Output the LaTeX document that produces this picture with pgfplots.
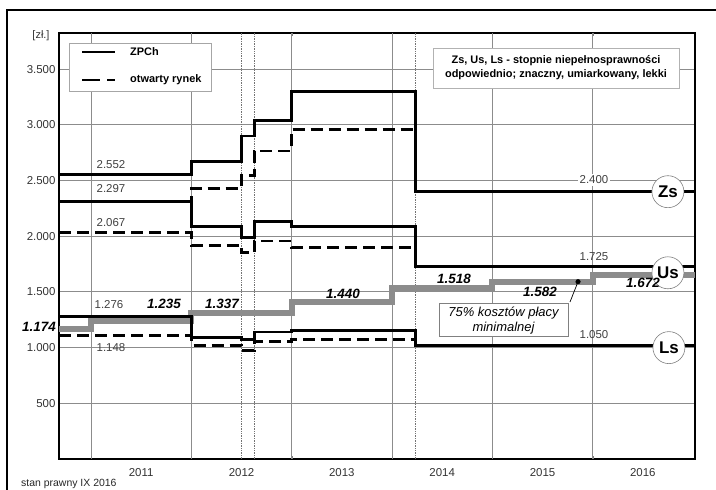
\documentclass[border=0pt]{standalone}
\usepackage{pgfplots}
\pgfplotsset{compat=1.18}
\usepackage{fontspec}
\setmainfont{Liberation Sans}
\newcommand\fs[1]{\fontsize{#1}{#1}\selectfont}
\begin{document}
\begin{tikzpicture}[x=1bp,y=1bp]
\begin{axis}[
  at={(59bp,31bp)}, anchor=south west,
  scale only axis, width=636bp, height=426bp,
  xmin=2010.181, xmax=2016.52, ymin=0, ymax=3825,
  axis line style={line width=1.8bp},
  ytick={500,1000,1500,2000,2500,3000,3500},
  yticklabel style={/pgf/number format/1000 sep={.}, font=\fs{11.5}, text=black!80},
  /pgf/number format/assume math mode=true,
  xtick={2011,2012,2013,2014,2015,2016},
  xticklabels={2011,2012,2013,2014,2015,2016},
  xticklabel style={font=\fs{11.5}, text=black!80, yshift=-6bp},
  major tick length=0pt,
  ymajorgrids,
  extra x ticks={2010.5,2011.5,2012.5,2013.5,2014.5,2015.5},
  extra x tick labels={},
  extra x tick style={grid=major, major tick length=3bp, tick style={black!50}},
  major grid style={black!45, line width=0.9bp},
  clip=false,
]
\draw[densely dotted, black!55, line width=0.7bp] (axis cs:2012,0) -- (axis cs:2012,3825);
\draw[densely dotted, black!55, line width=0.7bp] (axis cs:2012.125,0) -- (axis cs:2012.125,3825);
\draw[densely dotted, black!55, line width=0.7bp] (axis cs:2013.73,0) -- (axis cs:2013.73,3825);
% 75% minimal wage
\addplot[const plot, draw=black!45, line width=5.8bp] coordinates {(2010.181,1168) (2010.5,1242) (2011.5,1312) (2012.5,1408) (2013.5,1532) (2014.5,1592) (2015.5,1655) (2016.52,1655)};
% Zs
\addplot[const plot, black, line width=2.9bp] coordinates {(2010.181,2552) (2011.5,2670) (2012,2900) (2012.125,3037) (2012.5,3297) (2013.73,2400) (2016.52,2400)};
\addplot[const plot, black, line width=2.9bp, dash pattern=on 12bp off 6bp] coordinates {(2010.181,2310) (2011.5,2430) (2012,2543) (2012.125,2765) (2012.5,2960) (2013.73,2400) (2016.52,2400)};
% Us
\addplot[const plot, black, line width=2.9bp] coordinates {(2010.181,2310) (2011.5,2090) (2012,1985) (2012.125,2130) (2012.5,2085) (2013.73,1730) (2016.52,1730)};
\addplot[const plot, black, line width=2.9bp, dash pattern=on 12bp off 6bp] coordinates {(2010.181,2030) (2011.5,1920) (2012,1852) (2012.125,1957) (2012.5,1900) (2013.73,1730) (2016.52,1730)};
% Ls
\addplot[const plot, black, line width=2.9bp] coordinates {(2010.181,1276) (2011.5,1092) (2012,1075) (2012.125,1140) (2012.5,1155) (2013.73,1015) (2016.52,1015)};
\addplot[const plot, black, line width=2.9bp, dash pattern=on 12bp off 6bp] coordinates {(2010.181,1107) (2011.5,1023) (2012,975) (2012.125,1058) (2012.5,1076) (2013.73,1015) (2016.52,1015)};
% pointer dot
\addplot[only marks, mark=*, mark size=2.3bp, black] coordinates {(2015.354,1592)};
\coordinate (dot) at (axis cs:2015.354,1592);
\node[circle, draw=black!50, fill=white, line width=0.6bp, minimum size=32bp, inner sep=0pt, font=\fs{17}\bfseries] at (axis cs:2016.25,2400) {Zs};
\node[circle, draw=black!50, fill=white, line width=0.6bp, minimum size=32bp, inner sep=0pt, font=\fs{17}\bfseries] at (axis cs:2016.25,1672) {Us};
\node[circle, draw=black!50, fill=white, line width=0.6bp, minimum size=32bp, inner sep=0pt, font=\fs{17}\bfseries] at (axis cs:2016.26,1000) {Ls};
\end{axis}
% outer frame
\draw[line width=1.6bp] (7,-20) -- (7,480) -- (740,480);
% unit
\node[font=\fs{11}, text=black!80] at (41,454) {[zł.]};
% small labels
\begin{scope}[every node/.style={font=\fs{11.5}, text=black!75, inner sep=1bp}]
\node at (111,325) {2.552};
\node at (111,301) {2.297};
\node at (111,267) {2.067};
\node at (109,185) {1.276};
\node at (111,142) {1.148};
\node[fill=white, inner sep=2bp] at (594,310) {2.400};
\node at (594,233) {1.725};
\node at (594,155) {1.050};
\end{scope}
\begin{scope}[every node/.style={font=\fs{13.5}\bfseries\itshape, inner sep=0pt}]
\node at (39,163) {1.174};
\node at (164,186) {1.235};
\node at (222,186) {1.337};
\node at (343,196) {1.440};
\node at (454,211) {1.518};
\node at (540,198) {1.582};
\node at (643,207) {1.672};
\end{scope}
% legend
\draw[draw=black!35, fill=white, line width=0.6bp] (69,447) rectangle (211,399);
\draw[line width=2.9bp] (82,438) -- (115,438);
\draw[line width=2.9bp, dash pattern=on 18bp off 7bp] (82,410) -- (115,410);
\node[anchor=west, font=\fs{11}\bfseries, inner sep=0pt] at (130,438) {ZPCh};
\node[anchor=west, font=\fs{11}\bfseries, inner sep=0pt] at (130,410) {otwarty rynek};
% info box
\draw[draw=black!30, fill=white, line width=0.6bp] (433,442) rectangle (679,402);
\node[font=\fs{11}\bfseries, inner sep=0pt] at (556,429) {Zs, Us, Ls - stopnie niepełnosprawności};
\node[font=\fs{11}\bfseries, inner sep=0pt] at (556,415) {odpowiednio; znaczny, umiarkowany, lekki};
% 75% box
\draw[line width=0.7bp] (dot) -- (570,188);
\draw[draw=black!50, fill=white, line width=0.6bp] (439,187) rectangle (568,154);
\node[font=\fs{13}\itshape, inner sep=0pt] at (503.5,177) {75\% kosztów płacy};
\node[font=\fs{13}\itshape, inner sep=0pt] at (503.5,162) {minimalnej};
% footer
\node[anchor=south west, font=\fs{10.5}, inner sep=0pt, text=black!85] at (21,1.5) {stan prawny IX 2016};
\pgfresetboundingbox
\useasboundingbox (0,0) rectangle (716,490);
\end{tikzpicture}
\end{document}
